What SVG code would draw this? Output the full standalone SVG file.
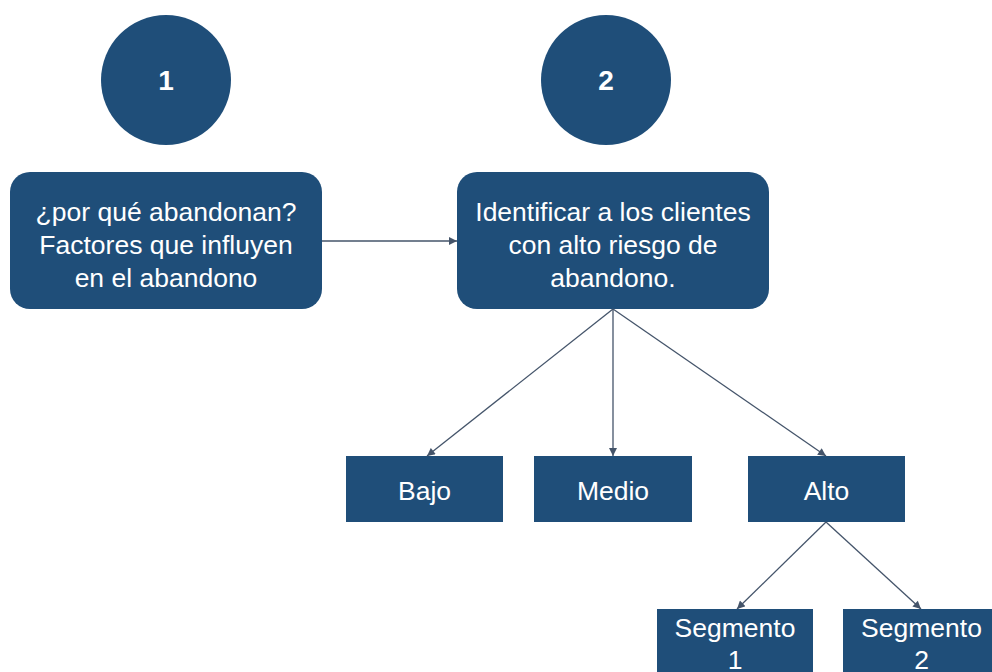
<svg xmlns="http://www.w3.org/2000/svg" width="992" height="672" viewBox="0 0 992 672">
<defs>
<marker id="ah" viewBox="0 0 10 10" refX="10" refY="5" markerWidth="9" markerHeight="8" orient="auto" markerUnits="userSpaceOnUse">
<path d="M0,0 L10,5 L0,10 z" fill="#44546A"/>
</marker>
<style>
.n{fill:#1F4E79;}
.t{font-family:"Liberation Sans",Arial,sans-serif;font-size:26.5px;fill:#fff;text-anchor:middle;}
.b{font-family:"Liberation Sans",Arial,sans-serif;font-size:28px;font-weight:bold;fill:#fff;text-anchor:middle;}
.c{stroke:#44546A;stroke-width:1.3;fill:none;marker-end:url(#ah);}
</style>
</defs>
<rect width="992" height="672" fill="#fff"/>
<g id="circle1"><circle class="n" cx="166" cy="80" r="65"/><text class="b" x="166" y="90">1</text></g>
<g id="circle2"><circle class="n" cx="606" cy="80" r="65"/><text class="b" x="606" y="90">2</text></g>
<g id="box1"><rect class="n" x="10" y="172" width="312" height="137" rx="20"/>
<text class="t" x="166" y="221">¿por qué abandonan?</text>
<text class="t" x="166" y="254">Factores que influyen</text>
<text class="t" x="166" y="287">en el abandono</text></g>
<g id="box2"><rect class="n" x="457" y="172" width="312" height="137" rx="20"/>
<text class="t" x="613" y="221">Identificar a los clientes</text>
<text class="t" x="613" y="254">con alto riesgo de</text>
<text class="t" x="613" y="287">abandono.</text></g>
<g id="bajo"><rect class="n" x="346" y="456" width="157" height="66"/><text class="t" x="424.5" y="500">Bajo</text></g>
<g id="medio"><rect class="n" x="534" y="456" width="158" height="66"/><text class="t" x="613" y="500">Medio</text></g>
<g id="alto"><rect class="n" x="748" y="456" width="157" height="66"/><text class="t" x="826.5" y="500">Alto</text></g>
<g id="seg1"><rect class="n" x="657" y="609" width="156" height="80"/><text class="t" x="735" y="637">Segmento</text><text class="t" x="735" y="669">1</text></g>
<g id="seg2"><rect class="n" x="843" y="609" width="157" height="80"/><text class="t" x="921.5" y="637">Segmento</text><text class="t" x="921.5" y="669">2</text></g>
<g id="connectors">
<line class="c" x1="322" y1="241" x2="457" y2="241"/>
<line class="c" x1="613" y1="309" x2="427" y2="456"/>
<line class="c" x1="613" y1="309" x2="613" y2="456"/>
<line class="c" x1="613" y1="309" x2="826" y2="456"/>
<line class="c" x1="826" y1="522" x2="737" y2="609"/>
<line class="c" x1="826" y1="522" x2="921" y2="609"/>
</g>
</svg>
